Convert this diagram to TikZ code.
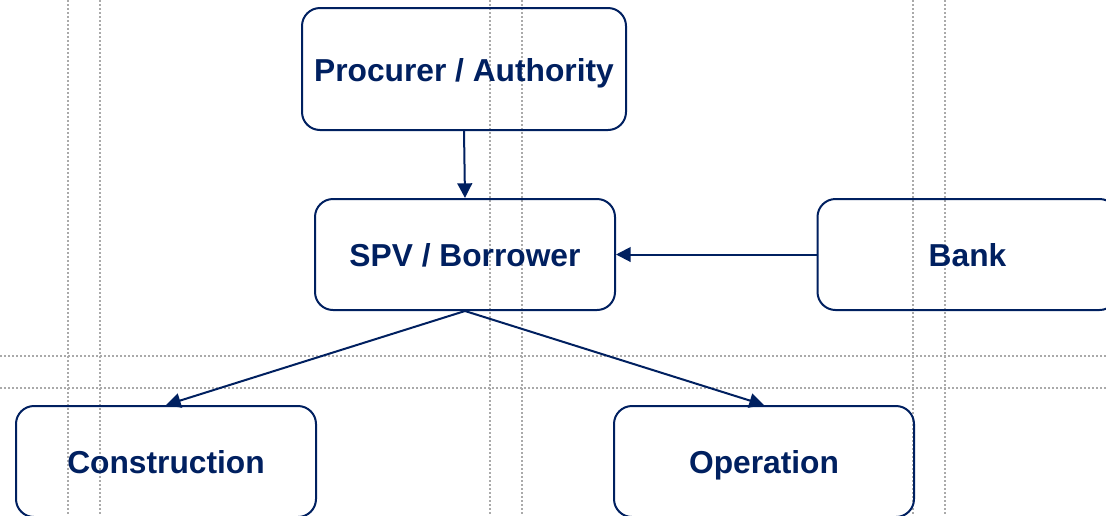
\documentclass[tikz,border=0pt]{standalone}
\usepackage{fontspec}
\setmainfont{Liberation Sans}
\usetikzlibrary{arrows.meta}
\definecolor{navy}{RGB}{0,32,96}
\definecolor{gridgray}{RGB}{170,170,170}
\tikzset{
  box/.style={draw=navy, line width=1.5pt, rounded corners=13.5pt, rectangle,
    minimum width=225pt, minimum height=83.25pt, inner sep=0pt,
    text height=18.5pt, text depth=0pt,
    text=navy, font=\fontsize{23.8pt}{28pt}\selectfont\bfseries},
  conn/.style={draw=navy, line width=1.5pt, -{Triangle[length=11pt,width=11pt]}},
  guide/.style={draw=gridgray, line width=0.9pt, dash pattern=on 1.5pt off 1.5pt}
}
\begin{document}
\begin{tikzpicture}[x=0.75pt,y=-0.75pt]
\useasboundingbox (0,0) rectangle (1106,515);
\clip (0,0) rectangle (1106,515);
\fill[white] (0,0) rectangle (1106,515);
% guide lines
\foreach \gx in {68,100,490,522,913,945}
  \draw[guide] (\gx,0) -- (\gx,515);
\foreach \gy in {356,388}
  \draw[guide] (0,\gy) -- (1106,\gy);
% boxes
\node[box, minimum width=243pt, minimum height=91.5pt] (P) at (464,69) {Procurer / Authority};
\node[box] (S) at (465,254.5) {SPV / Borrower};
\node[box] (B) at (967.5,254.5) {Bank};
\node[box] (C) at (166,461.5) {Construction};
\node[box] (O) at (764,461.5) {Operation};
% connectors
\draw[conn] (P.south) -- (S.north);
\draw[conn] (B.west) -- (S.east);
\draw[conn] (S.south) -- (C.north);
\draw[conn] (S.south) -- (O.north);
\end{tikzpicture}
\end{document}
